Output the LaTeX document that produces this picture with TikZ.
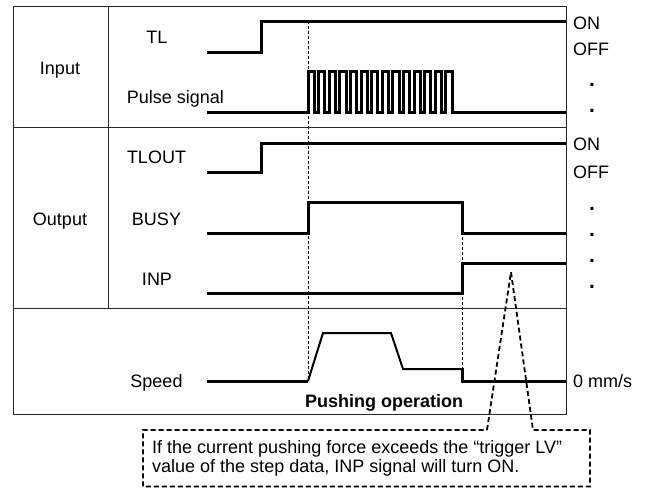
\documentclass[tikz,border=0pt]{standalone}
\usepackage{fontspec}
\setmainfont{Liberation Sans}
\begin{document}
\begin{tikzpicture}[x=1pt,y=-1pt,
  lbl/.style={font=\fontsize{18}{20}\selectfont, inner sep=0pt, anchor=base},
  rlbl/.style={font=\fontsize{18}{20}\selectfont, inner sep=0pt, anchor=base west},
  dotlbl/.style={font=\fontsize{21}{22}\selectfont\bfseries, inner sep=0pt, anchor=base},
  sig/.style={line width=3pt, line join=miter},
  thinsig/.style={line width=2pt, line join=miter},
  gridline/.style={line width=1pt, draw=black!85},
  guide/.style={line width=0.9pt, dash pattern=on 3pt off 2pt},
  callout/.style={line width=1.8pt, dash pattern=on 5pt off 3pt, line join=miter}]
\useasboundingbox (0,0) rectangle (651,488);

% table frame
\draw[gridline] (13,6) rectangle (566,414);
\draw[gridline] (108,6) -- (108,308);
\draw[gridline] (13,127) -- (566,127);
\draw[gridline] (13,308) -- (566,308);

% group and signal labels
\node[lbl] (input) at (60,74.5) {Input};
\node[lbl] (output) at (60,225.5) {Output};
\node[lbl] (tl) at (157,43.5) {TL};
\node[lbl] (pulse) at (175.5,103) {Pulse signal};
\node[lbl] (tlout) at (156.5,163) {TLOUT};
\node[lbl] (busy) at (156.5,225) {BUSY};
\node[lbl] (inp) at (157,285) {INP};
\node[lbl] (speed) at (156.5,387) {Speed};

% right-hand labels
\node[rlbl] (on1) at (573,29) {ON};
\node[rlbl] (off1) at (573,55.5) {OFF};
\node[rlbl] (on2) at (573,150) {ON};
\node[rlbl] (off2) at (573,178) {OFF};
\node[dotlbl] (d1) at (592,86.5) {.};
\node[dotlbl] (d2) at (592,112.5) {.};
\node[dotlbl] (d3) at (592,210.5) {.};
\node[dotlbl] (d4) at (592,236.5) {.};
\node[dotlbl] (d5) at (592,262.5) {.};
\node[dotlbl] (d6) at (592,288.5) {.};
\node[rlbl] (zero) at (573,387) {0 mm/s};

% guide lines
\draw[guide] (308,21) -- (308,381);
\draw[guide] (462,202) -- (462,381);

% signals
\draw[sig] (207,52) -- (261,52) -- (261,21) -- (566,21);
\draw[sig] (207,112) -- (308,112)
  \foreach \k in {0,...,13} { -- ({308+10.6*\k},112) -- ({308+10.6*\k},71) -- ({314.2+10.6*\k},71) -- ({314.2+10.6*\k},112) }
  -- (566,112);
\draw[sig] (207,172) -- (261,172) -- (261,143) -- (566,143);
\draw[sig] (207,233) -- (308,233) -- (308,202) -- (462,202) -- (462,233) -- (566,233);
\draw[sig] (207,293) -- (462,293) -- (462,263) -- (566,263);
\draw[sig] (207,381) -- (308,381);
\draw[thinsig] (308,381) -- (323,333) -- (391,333) -- (403,369) -- (462,369);
\draw[sig] (462,368) -- (462,381) -- (566,381);

\node[rlbl, font=\fontsize{18}{20}\selectfont\bfseries] (pushing) at (305,407) {Pushing operation};

% callout
\draw[callout] (487,430) -- (511,272) -- (533,430) -- (590,430) -- (590,486.5) -- (143,486.5) -- (143,430) -- cycle;
\node[rlbl] (note1) at (152,453) {If the current pushing force exceeds the “trigger LV”};
\node[rlbl] (note2) at (152,472) {value of the step data, INP signal will turn ON.};
\end{tikzpicture}
\end{document}
